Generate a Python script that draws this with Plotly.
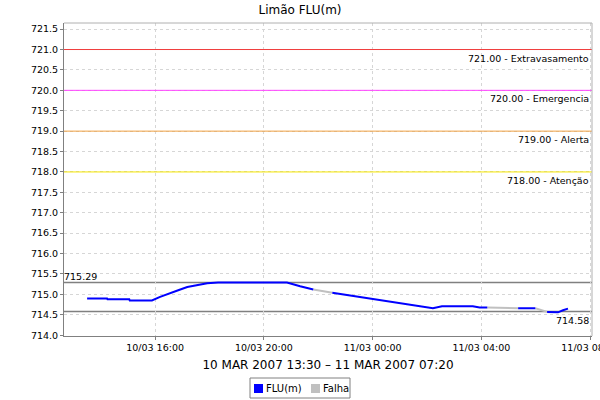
import plotly.graph_objects as go

# FLU(m) readings (blue); None marks missing data ("Falha")
times = [
    "2007-03-10 13:30", "2007-03-10 14:14", "2007-03-10 14:15", "2007-03-10 15:03",
    "2007-03-10 15:04", "2007-03-10 15:53", "2007-03-10 16:11", "2007-03-10 16:33",
    "2007-03-10 16:51", "2007-03-10 17:11", "2007-03-10 17:33", "2007-03-10 17:55",
    "2007-03-10 18:19", "2007-03-10 20:51", "2007-03-10 21:20", "2007-03-10 21:49",
    None,
    "2007-03-10 22:31", "2007-03-10 22:55", "2007-03-10 23:21", "2007-03-10 23:48",
    "2007-03-11 00:17", "2007-03-11 00:45", "2007-03-11 01:16", "2007-03-11 01:44",
    "2007-03-11 02:13", "2007-03-11 02:33", "2007-03-11 03:41", "2007-03-11 03:56",
    "2007-03-11 04:13",
    None,
    "2007-03-11 05:21", "2007-03-11 05:59",
    None,
    "2007-03-11 06:25", "2007-03-11 06:49", "2007-03-11 07:00", "2007-03-11 07:11",
]
levels = [
    714.90, 714.90, 714.88, 714.88,
    714.85, 714.85, 714.94, 715.02,
    715.10, 715.18, 715.22, 715.27,
    715.29, 715.29, 715.20, 715.12,
    None,
    715.04, 715.00, 714.96, 714.90,
    714.86, 714.82, 714.76, 714.71,
    714.66, 714.71, 714.71, 714.68,
    714.68,
    None,
    714.66, 714.66,
    None,
    714.57, 714.56, 714.61, 714.65,
]

# Gaps ("Falha") drawn as gray connectors
gap_times = ["2007-03-10 21:49", "2007-03-10 22:31", None,
             "2007-03-11 04:13", "2007-03-11 05:21", None,
             "2007-03-11 05:59", "2007-03-11 06:25"]
gap_levels = [715.12, 715.04, None, 714.68, 714.66, None, 714.66, 714.57]

max_level = 715.29
min_level = 714.58

thresholds = [721.0, 720.0, 719.0, 718.0]
threshold_labels = ["721.00 - Extravasamento", "720.00 - Emergencia",
                    "719.00 - Alerta", "718.00 - Atenção"]
threshold_colors = ["#f03c3c", "#ff40ff", "#f0a040", "#f5e600"]

y_ticks = [714.0 + 0.5 * i for i in range(16)]
x_ticks = ["2007-03-10 16:00", "2007-03-10 20:00", "2007-03-11 00:00",
           "2007-03-11 04:00", "2007-03-11 08:00"]

legend_names = ["FLU(m)", "Falha"]
legend_colors = ["#0000ff", "#c0c0c0"]

font = "DejaVu Sans"

W, H = 600, 400
ML, MR, MT, MB = 64, 8, 23, 64
PW, PH = W - ML - MR, H - MT - MB


def px(x):  # figure pixel -> paper x
    return (x - ML) / PW


def py(y):  # figure pixel -> paper y
    return (H - MB - y) / PH


fig = go.Figure()

fig.add_trace(go.Scatter(x=gap_times, y=gap_levels, mode="lines",
                         line=dict(color="#c0c0c0", width=2),
                         connectgaps=False, showlegend=False, hoverinfo="skip"))
fig.add_trace(go.Scatter(x=times, y=levels, mode="lines",
                         line=dict(color="#0000ff", width=2),
                         connectgaps=False, showlegend=False, name="FLU(m)"))

shapes = []
annotations = []
for val, lab, col in zip(thresholds, threshold_labels, threshold_colors):
    shapes.append(dict(type="line", xref="paper", x0=0, x1=1, yref="y", y0=val, y1=val,
                       line=dict(color=col, width=1)))
    annotations.append(dict(xref="paper", x=0.998, yref="y", y=val, text=lab,
                            showarrow=False, xanchor="right", yanchor="top", yshift=-1,
                            font=dict(family=font, size=9.5, color="#000000")))

for val in (max_level, min_level):
    shapes.append(dict(type="line", xref="paper", x0=0, x1=1, yref="y", y0=val, y1=val,
                       line=dict(color="#808080", width=1.5), layer="below"))
annotations.append(dict(xref="paper", x=px(62), yref="y", y=max_level, text=f"{max_level:.2f}",
                        showarrow=False, xanchor="left", yanchor="bottom", yshift=-1,
                        font=dict(family=font, size=9.5, color="#000000")))
annotations.append(dict(xref="paper", x=0.998, yref="y", y=min_level, text=f"{min_level:.2f}",
                        showarrow=False, xanchor="right", yanchor="top", yshift=-1,
                        font=dict(family=font, size=9.5, color="#000000")))

# top/right border of plot area
shapes.append(dict(type="line", xref="paper", yref="paper", x0=0, x1=1, y0=1, y1=1,
                   line=dict(color="#b0b0b0", width=1)))
shapes.append(dict(type="line", xref="paper", yref="paper", x0=1, x1=1, y0=0, y1=1,
                   line=dict(color="#b0b0b0", width=1)))

# manual legend box (bottom centre)
shapes.append(dict(type="rect", xref="paper", yref="paper",
                   x0=px(250), x1=px(350), y0=py(378), y1=py(398),
                   line=dict(color="#808080", width=1), fillcolor="white"))
sq_x = [254, 311]
txt_x = [264, 321]
for sx, tx, name, col in zip(sq_x, txt_x, legend_names, legend_colors):
    shapes.append(dict(type="rect", xref="paper", yref="paper",
                       x0=px(sx), x1=px(sx + 9), y0=py(384), y1=py(393),
                       line=dict(width=0), fillcolor=col))
    annotations.append(dict(xref="paper", yref="paper", x=px(tx), y=py(388.5), text=name,
                            showarrow=False, xanchor="left", yanchor="middle",
                            font=dict(family=font, size=10, color="#000000")))

fig.update_layout(
    width=W, height=H,
    margin=dict(l=ML, r=MR, t=MT, b=MB, autoexpand=False),
    paper_bgcolor="white", plot_bgcolor="white",
    font=dict(family=font, size=10, color="#000000"),
    title=dict(text="Limão FLU(m)", x=0.5, xanchor="center", y=1 - 10 / H, yanchor="middle",
               font=dict(family=font, size=12)),
    shapes=shapes, annotations=annotations,
    showlegend=False,
)
fig.update_xaxes(
    type="date", range=["2007-03-10 12:39", "2007-03-11 08:04"],
    tickvals=x_ticks, tickformat="%d/%m %H:%M", ticklabeloverflow="allow",
    showgrid=True, gridcolor="#d6d6d6", griddash="3px,3px", gridwidth=1,
    showline=True, linecolor="#808080", linewidth=1, mirror=False,
    ticks="outside", ticklen=3, tickcolor="#808080",
    tickfont=dict(family=font, size=9.5),
    title=dict(text="10 MAR 2007 13:30 – 11 MAR 2007 07:20", standoff=8,
               font=dict(family=font, size=12)),
    zeroline=False,
)
fig.update_yaxes(
    range=[713.98, 721.65], tickvals=y_ticks, tickformat=".1f",
    showgrid=True, gridcolor="#d6d6d6", griddash="3px,3px", gridwidth=1,
    showline=True, linecolor="#808080", linewidth=1,
    ticks="outside", ticklen=3, tickcolor="#808080",
    tickfont=dict(family=font, size=9.5), zeroline=False,
)

fig.write_html("out.html", config={"displayModeBar": False},
               post_script="document.body.style.margin='0';")
